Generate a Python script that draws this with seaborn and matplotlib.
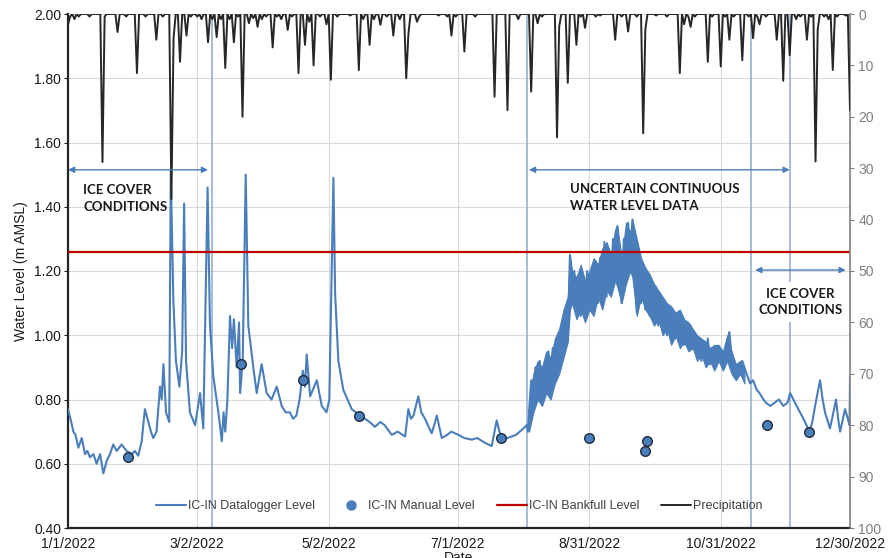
import numpy as np
import pandas as pd
import matplotlib
matplotlib.use("Agg")
import matplotlib.pyplot as plt
import matplotlib.dates as mdates
from matplotlib.lines import Line2D
import seaborn as sns

START = pd.Timestamp("2022-01-01")

# ---------------- data ----------------
# Datalogger level: day offset from 1 Jan 2022, level (m AMSL)
logger_day = [
    0, 1.5, 2.5, 3.5, 4.8, 6.4, 7.9, 9, 10.2, 11.8, 13.3, 14.9, 16.4, 18, 19.5,
    21, 22.6, 24.9, 27.2, 29.6, 31, 32.6, 34.2, 35.7, 37.3, 38.5, 39.6, 41.1,
    42.7, 43.5, 44.3, 45.5, 47, 47.7, 48.9, 50.1, 51.7, 53, 53.9, 54.8, 56.6,
    59, 61.3, 62.8, 64.8, 65.9, 67.5, 69.8, 71.4, 72.2, 73, 74, 75.2, 76.2, 77,
    78.3, 79.4, 79.9, 81.1, 82.5, 83.7, 86, 87.6, 89.9, 92.2, 94.5, 96.9, 99.2,
    101, 103, 104.5, 106, 107.5, 109, 110, 110.8, 112.4, 115.5, 117.8, 120,
    121.3, 123.2, 124, 125.5, 127.8, 131.7, 134.6, 137.9, 140, 142.5, 145, 147,
    150.3, 153, 156.5, 158, 159.2, 160.4, 162.6, 164, 165.7, 168.8, 170, 171.2,
    173.5, 176, 178, 181.2, 184, 187.4, 190, 193.6, 196.7, 199, 200.3, 201.4,
    204, 206, 208, 210.6, 212.9, 213.5,
    214, 215, 216, 217, 218, 219, 220, 221, 222, 223, 224, 225, 226, 227, 228,
    229, 230, 231, 232, 233, 234, 235, 236, 237, 238, 239, 240, 241, 242, 243,
    244, 245, 246, 247, 248, 249, 250, 251, 252, 253, 254, 255, 256, 257, 258,
    259, 260, 261, 262, 263, 264, 265, 266, 267, 268, 269, 270, 271, 272, 273,
    274, 275, 276, 277, 278, 279, 280, 281, 282, 283, 284, 285, 286, 287, 288,
    289, 290, 291, 292, 293, 294, 295, 296, 297, 298, 299, 300,
    302, 304, 305, 307, 308, 310, 311, 313, 315, 316.6, 318, 319.7, 321, 322.8,
    324, 325.9, 328, 330, 332, 334, 335.2, 337.5, 339, 341.4, 344.2, 345.5,
    346.8, 349.1, 350.3, 351.4, 353.7, 355, 356.5, 357.5, 358.4, 360.7, 362,
    362.8, 363,
]
logger_level = [
    0.77, 0.73, 0.70, 0.69, 0.65, 0.68, 0.63, 0.64, 0.62, 0.63, 0.60, 0.63, 0.57, 0.61, 0.63,
    0.66, 0.64, 0.66, 0.64, 0.63, 0.64, 0.625, 0.67, 0.77, 0.73, 0.70, 0.68, 0.70,
    0.84, 0.80, 0.91, 0.76, 0.73, 1.51, 1.11, 0.92, 0.84, 0.95, 1.41, 0.92, 0.76,
    0.72, 0.82, 0.71, 1.46, 1.03, 0.87, 0.76, 0.67, 0.76, 0.70, 0.80, 1.06, 0.96, 1.05,
    0.90, 1.04, 0.82, 0.92, 1.50, 1.03, 0.90, 0.82, 0.91, 0.82, 0.80, 0.84, 0.78,
    0.76, 0.76, 0.74, 0.75, 0.80, 0.89, 0.84, 0.94, 0.81, 0.86, 0.78, 0.76,
    0.80, 1.49, 1.13, 0.92, 0.83, 0.77, 0.755, 0.74, 0.73, 0.715, 0.73, 0.72,
    0.69, 0.70, 0.685, 0.77, 0.74, 0.75, 0.81, 0.76, 0.74, 0.695, 0.72, 0.75,
    0.68, 0.69, 0.70, 0.69, 0.68, 0.675, 0.68, 0.665, 0.655, 0.735, 0.70, 0.685,
    0.68, 0.685, 0.69, 0.705, 0.72, 0.70,
    0.76, 0.86, 0.80, 0.90, 0.82, 0.92, 0.84, 0.90, 0.83, 0.95, 0.85, 0.96, 0.88, 0.99, 0.90,
    1.02, 0.95, 1.06, 1.00, 1.25, 1.12, 1.20, 1.08, 1.18, 1.06, 1.16, 1.09, 1.20, 1.10, 1.19,
    1.08, 1.23, 1.10, 1.24, 1.12, 1.29, 1.12, 1.27, 1.15, 1.30, 1.18, 1.34, 1.16, 1.10, 1.30,
    1.18, 1.35, 1.20, 1.36, 1.22, 1.07, 1.24, 1.10, 1.20, 1.08, 1.18, 1.06, 1.16, 1.04, 1.15,
    1.03, 1.12, 1.02, 1.10, 1.00, 1.08, 1.02, 1.06, 0.99, 1.07, 0.98, 1.04, 0.97, 1.02, 0.98,
    1.03, 0.96, 1.00, 0.93, 0.98, 0.92, 0.97, 0.94, 0.99, 0.91, 0.96, 0.90,
    0.96, 0.92, 0.95, 1.01, 0.94, 0.87, 0.90, 0.92, 0.88, 0.85, 0.86, 0.83, 0.82, 0.80,
    0.79, 0.78, 0.79, 0.80, 0.78, 0.79, 0.82, 0.79, 0.77, 0.74, 0.70, 0.73,
    0.78, 0.86, 0.80, 0.76, 0.71, 0.75, 0.80, 0.74, 0.70, 0.77, 0.74,
    0.72, 0.87,
]

# Envelope of the dense sub-daily oscillation (uncertain period)
band_day = [214, 216, 218, 220, 222, 224, 226, 228, 230, 232, 233, 234, 236, 238,
            240, 242, 244, 246, 248, 250, 252, 254, 255, 257, 259, 261, 262, 264,
            266, 268, 270, 272, 274, 276, 278, 280, 282, 284, 286, 288, 290, 292,
            294, 296, 298, 300, 302, 304, 306, 308, 310, 312, 314]
band_low = [0.70, 0.76, 0.80, 0.78, 0.82, 0.80, 0.85, 0.88, 0.93, 0.98, 1.08, 1.10,
            1.05, 1.08, 1.04, 1.08, 1.06, 1.12, 1.08, 1.14, 1.12, 1.17, 1.15, 1.10,
            1.16, 1.20, 1.18, 1.06, 1.12, 1.08, 1.06, 1.03, 1.05, 1.00, 1.02, 0.97,
            1.00, 0.96, 0.98, 0.95, 0.96, 0.92, 0.94, 0.90, 0.92, 0.89, 0.92, 0.89,
            0.92, 0.88, 0.86, 0.88, 0.85]
band_high = [0.80, 0.88, 0.92, 0.90, 0.95, 0.93, 0.99, 1.02, 1.08, 1.12, 1.25, 1.20,
             1.18, 1.22, 1.17, 1.20, 1.24, 1.22, 1.27, 1.29, 1.25, 1.33, 1.34, 1.24,
             1.35, 1.32, 1.36, 1.30, 1.24, 1.21, 1.19, 1.16, 1.14, 1.12, 1.10, 1.09,
             1.07, 1.08, 1.05, 1.04, 1.02, 1.00, 0.99, 0.98, 0.96, 0.97, 0.97, 0.95,
             1.00, 0.95, 0.91, 0.92, 0.89]

# Manual level measurements
manual_day = [28, 80.5, 109, 135, 201, 242, 268, 269, 324.4, 344.2]
manual_level = [0.62, 0.91, 0.86, 0.75, 0.68, 0.68, 0.64, 0.67, 0.72, 0.70]

# Bankfull level
bankfull_level = 1.26

# Precipitation (mm) on wet days: day offset, amount; other days are 0 mm
precip_day = [
    0, 1, 3, 5, 10, 16, 17, 23, 27, 32, 36, 41, 44, 48, 49, 52, 55, 57, 60, 62,
    65, 67, 69, 71, 73, 75, 77, 79, 81, 84, 86, 88, 90, 92, 95, 97, 99, 102, 104,
    107, 110, 112, 114, 117, 120, 122, 125, 131, 135, 137, 140, 142, 145, 148,
    151, 154, 157, 158, 162, 163, 172, 176, 178, 180, 184, 189, 198, 204, 209,
    215, 218, 220, 227, 228, 232, 236, 238, 240, 245, 247, 254, 257, 260, 264,
    267, 268, 273, 278, 284, 286, 288, 289, 291, 297, 299, 303, 305, 307, 309,
    313, 316, 318, 320, 321, 324, 329, 332, 335, 338, 340, 343, 345, 347, 348,
    351, 353, 355, 357, 361, 363,
]
precip_mm = [
    2, 0.5, 1, 0.5, 0.5, 28.8, 0.5, 3.5, 0.5, 11.5, 0.5, 5, 0.5, 36, 4.7, 9.3, 4.2, 0.5, 0.5, 1,
    5.5, 1, 4.5, 1, 10.5, 1, 5.5, 0.5, 20, 1.8, 0.8, 2.5, 1, 0.5, 6.5, 0.5, 1, 3.1, 0.5,
    11.5, 6, 1.5, 10, 0.5, 2, 12.8, 0.5, 0.3, 10.9, 1, 6, 1, 2.1, 0.5,
    4.2, 1, 12.5, 4, 1.5, 0.5, 0.3, 0.5, 4.2, 0.5, 7.3, 0.5, 16.1, 18.7, 1,
    15.1, 1.8, 0.5, 24, 2.5, 13.4, 6, 0.5, 2.7, 0.5, 0.3, 5, 0.5, 3.4, 0.5,
    23.2, 3, 0.3, 0.5, 11.5, 2, 0.5, 2.5, 0.5, 9.3, 0.5, 10.2, 0.5, 5, 0.5,
    9, 0.5, 4.7, 0.5, 2, 0.5, 5, 13, 8, 1, 0.5, 5, 0.5, 28.7, 3,
    0.5, 1, 10.9, 0.5, 0.3, 18.7,
]

# Vertical marker lines, ticks
marker_dates = ["2022-03-09", "2022-08-02", "2022-11-14", "2022-12-02"]
tick_labels = ["1/1/2022", "3/2/2022", "5/2/2022", "7/1/2022",
               "8/31/2022", "10/31/2022", "12/30/2022"]
left_ticks = [0.40, 0.60, 0.80, 1.00, 1.20, 1.40, 1.60, 1.80, 2.00]
right_ticks = [0, 10, 20, 30, 40, 50, 60, 70, 80, 90, 100]

# ---------------- build frames ----------------
logger_df = pd.DataFrame({
    "Date": START + pd.to_timedelta(logger_day, unit="D"),
    "Level": logger_level,
})
band_dates = START + pd.to_timedelta(band_day, unit="D")
manual_df = pd.DataFrame({
    "Date": START + pd.to_timedelta(manual_day, unit="D"),
    "Level": manual_level,
})
all_days = pd.date_range("2022-01-01", "2022-12-30", freq="D")
precip_series = pd.Series(0.0, index=all_days)
precip_series.iloc[precip_day] = precip_mm
precip_df = pd.DataFrame({"Date": all_days, "Precip": precip_series.values})

# ---------------- style ----------------
sns.set_theme(style="white")
plt.rcParams["font.family"] = ["Liberation Sans", "DejaVu Sans"]

BLUE = "#4a7ebb"
RED = "#c00000"
DARK = "#262626"
VLINE = "#8eaad3"
GRID = "#d9d9d9"

fig = plt.figure(figsize=(8.9, 5.58), dpi=100)
ax = fig.add_axes([68 / 890, 30 / 558, 782 / 890, 514 / 558])

x0 = pd.Timestamp("2022-01-01")
x1 = pd.Timestamp("2022-12-30")

# datalogger line + dense oscillation band
ax.fill_between(band_dates, band_low, band_high, color=BLUE, linewidth=0.8,
                edgecolor=BLUE, zorder=3)
sns.lineplot(data=logger_df, x="Date", y="Level", ax=ax, color=BLUE,
             linewidth=1.5, sort=False, estimator=None, zorder=3)
# bankfull
ax.axhline(bankfull_level, color=RED, linewidth=1.6, zorder=4)
# vertical markers
for d in marker_dates:
    ax.axvline(pd.Timestamp(d), color=VLINE, linewidth=1.1, zorder=2)
# manual points
sns.scatterplot(data=manual_df, x="Date", y="Level", ax=ax, s=48,
                color=BLUE, edgecolor="#1f2b3a", linewidth=1.0, zorder=5)

ax.set_xlim(x0, x1)
ax.set_ylim(0.40, 2.00)
ax.set_yticks(left_ticks)
ax.set_yticklabels([f"{v:.2f}" for v in left_ticks])
tick_dates = pd.to_datetime(tick_labels, format="%m/%d/%Y")
ax.set_xticks(tick_dates)
ax.set_xticklabels(tick_labels)
ax.grid(True, color=GRID, linewidth=0.8, zorder=0)
ax.set_axisbelow(True)
ax.tick_params(axis="both", labelsize=10, colors="#1a1a1a", length=3,
               width=0.8, pad=2, direction="out")
ax.tick_params(axis="x", length=0, pad=6.5)
ax.set_ylabel("Water Level (m AMSL)", fontsize=10, labelpad=4, color="#1a1a1a")
ax.set_xlabel("")
fig.text((68 + 391) / 890, 7 / 558, "Date", ha="center", va="top",
         fontsize=10, color="#1a1a1a")
for s in ["top", "right"]:
    ax.spines[s].set_visible(False)
ax.spines["left"].set_color("#262626")
ax.spines["left"].set_linewidth(1.6)
ax.spines["bottom"].set_color("#262626")
ax.spines["bottom"].set_linewidth(1.6)

# precipitation on secondary axis
ax2 = ax.twinx()
sns.lineplot(data=precip_df, x="Date", y="Precip", ax=ax2, color=DARK,
             linewidth=1.4, sort=False, estimator=None, zorder=3)
ax2.set_ylim(100, 0)
ax2.set_xlim(x0, x1)
ax2.set_yticks(right_ticks)
ax2.set_yticklabels([str(v) for v in right_ticks])
ax2.set_ylabel("")
ax2.tick_params(axis="y", labelsize=10, colors="#7f7f7f", length=3, width=0.8, pad=3)
ax2.grid(False)
for s in ["top", "left", "bottom"]:
    ax2.spines[s].set_visible(False)
ax2.spines["right"].set_color("#7f7f7f")
ax2.spines["right"].set_linewidth(1.2)

ann_font = dict(family=["Lato", "DejaVu Sans"], weight="bold", fontsize=9.5,
                color="#1a1a1a")
arrow_kw = dict(arrowstyle="<|-|>", color=BLUE, lw=1.0, mutation_scale=9,
                shrinkA=0, shrinkB=0)


def dnum(d):
    return mdates.date2num(pd.Timestamp(d))


def lev_to_precip(v):
    # position on the secondary (precip) axis matching a level value
    return (2.00 - v) / 1.60 * 100


ax2.annotate("", xy=(dnum("2022-01-01"), lev_to_precip(1.515)),
             xytext=(dnum("2022-03-07"), lev_to_precip(1.515)), arrowprops=arrow_kw, zorder=6)
ax2.annotate("", xy=(dnum("2022-08-03"), lev_to_precip(1.515)),
             xytext=(dnum("2022-12-02"), lev_to_precip(1.515)), arrowprops=arrow_kw, zorder=6)
ax2.annotate("", xy=(dnum("2022-11-16"), lev_to_precip(1.203)),
             xytext=(dnum("2022-12-28"), lev_to_precip(1.203)), arrowprops=arrow_kw, zorder=6)

ax.text(dnum("2022-01-08"), 1.425, "ICE COVER\nCONDITIONS", ha="left", va="center",
        linespacing=1.45, zorder=6, **ann_font)
ax.text(dnum("2022-08-22"), 1.429, "UNCERTAIN CONTINUOUS\nWATER LEVEL DATA", ha="left",
        va="center", linespacing=1.45, zorder=6, **ann_font)
ax.text(dnum("2022-12-07"), 1.104, "ICE COVER\nCONDITIONS", ha="center", va="center",
        linespacing=1.45, zorder=6,
        bbox=dict(boxstyle="square,pad=0.45", facecolor="white", edgecolor="none"),
        **ann_font)

# legend
handles = [
    Line2D([], [], color=BLUE, linewidth=1.5),
    Line2D([], [], color=BLUE, marker="o", linestyle="none", markersize=6.5),
    Line2D([], [], color=RED, linewidth=1.6),
    Line2D([], [], color=DARK, linewidth=1.4),
]
labels = ["IC-IN Datalogger Level", "IC-IN Manual Level",
          "IC-IN Bankfull Level", "Precipitation"]
leg = ax2.legend(handles, labels, loc="center", bbox_to_anchor=(0.5, 0.043),
                 ncol=4, frameon=False, fontsize=9, handlelength=2.4,
                 handletextpad=0.15, columnspacing=1.75, borderaxespad=0)
for t in leg.get_texts():
    t.set_color("#404040")

fig.savefig("out.png", dpi=100)
